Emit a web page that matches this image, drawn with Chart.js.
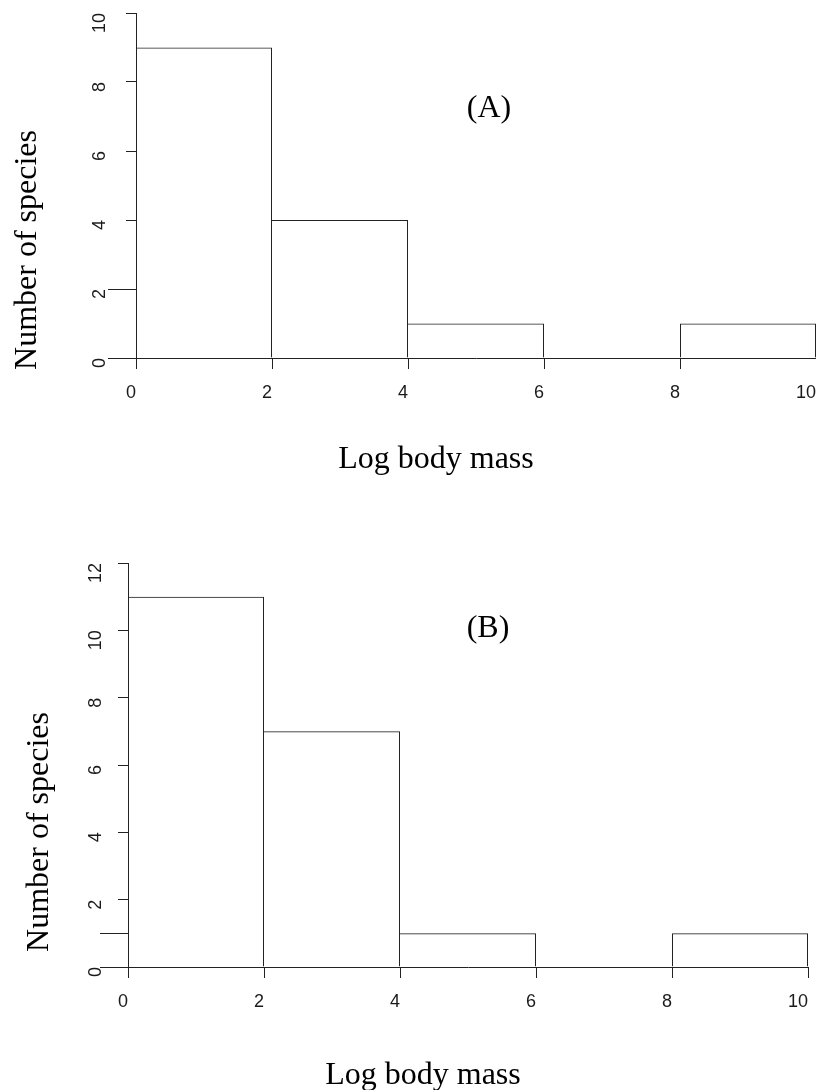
<!DOCTYPE html>
<html>
<head>
<meta charset="utf-8">
<script src="https://cdn.jsdelivr.net/npm/chart.js@4.4.1/dist/chart.umd.min.js"></script>
<style>
  html, body { margin: 0; padding: 0; background: #fff; }
  .panel { position: relative; width: 816px; height: 545px; }
</style>
</head>
<body>
<div class="panel"><canvas id="chartA"></canvas></div>
<div class="panel"><canvas id="chartB"></canvas></div>
<script>
// histogram bins (midpoints of 2-unit bins) and counts
const binMids = [1, 3, 5, 7, 9];
const countsA = [9, 4, 1, 0, 1];
const countsB = [11, 7, 1, 0, 1];

const xTicks = [0, 2, 4, 6, 8, 10];
const yTicksA = [0, 2, 4, 6, 8, 10];
const yTicksB = [0, 2, 4, 6, 8, 10, 12];

// odd longer tick stubs on the left of each y axis
const stubValuesA = [0, 2];
const stubValuesB = [0, 1];

const xTitle = 'Log body mass';
const yTitle = 'Number of species';

const LINE = '#222';
const tickFont = { family: '"Liberation Sans", Arial, sans-serif', size: 18 };

// draws axis titles and the (A)/(B) label
const panelText = {
    id: 'panelText',
    afterDraw(chart, args, opts) {
        const ctx = chart.ctx;
        ctx.save();
        ctx.fillStyle = '#000';
        ctx.font = '32px "Liberation Serif", "Times New Roman", serif';
        ctx.textAlign = 'center';
        ctx.textBaseline = 'alphabetic';
        opts.items.forEach(it => {
            ctx.save();
            ctx.translate(it.x, it.y);
            if (it.rotate) ctx.rotate(-Math.PI / 2);
            ctx.fillText(it.text, 0, 0);
            ctx.restore();
        });
        ctx.restore();
    }
};

// longer tick stubs sticking out left of the y axis
const axisStubs = {
    id: 'axisStubs',
    afterDraw(chart, args, opts) {
        const y = chart.scales.y;
        const ctx = chart.ctx;
        ctx.save();
        ctx.strokeStyle = LINE;
        ctx.lineWidth = 1;
        opts.values.forEach(v => {
            const py = Math.round(y.getPixelForValue(v)) + 0.5;
            ctx.beginPath();
            ctx.moveTo(y.right - opts.length, py);
            ctx.lineTo(y.right, py);
            ctx.stroke();
        });
        ctx.restore();
    }
};

function makeHist(canvasId, counts, yTicks, cfg) {
    const yMax = yTicks[yTicks.length - 1];
    return new Chart(document.getElementById(canvasId), {
        type: 'bar',
        data: {
            datasets: [{
                data: binMids.map((m, i) => ({ x: m, y: counts[i] })),
                backgroundColor: 'rgba(255,255,255,0)',
                borderColor: LINE,
                // outline like R's rect(): skip edges another bar or the axis already draws
                borderWidth: c => {
                    const i = c.dataIndex;
                    const prev = i > 0 ? counts[i - 1] : Infinity;
                    return { top: 1, right: 1, bottom: 0, left: prev < counts[i] ? 1 : 0 };
                },
                borderSkipped: false,
                inflateAmount: 0,
                barPercentage: 1,
                categoryPercentage: 1
            }]
        },
        options: {
            responsive: true,
            maintainAspectRatio: false,
            animation: false,
            events: [],
            layout: { padding: cfg.padding },
            plugins: {
                legend: { display: false },
                tooltip: { enabled: false },
                panelText: { items: cfg.texts },
                axisStubs: { values: cfg.stubs, length: 28 }
            },
            scales: {
                x: {
                    type: 'linear',
                    min: 0,
                    max: 10,
                    offset: false,
                    afterBuildTicks: s => { s.ticks = xTicks.map(v => ({ value: v })); },
                    afterFit: s => { s.height = 60; s.paddingLeft = 0; s.paddingRight = 0; },
                    border: { color: LINE, width: 1 },
                    grid: { drawOnChartArea: false, offset: false, tickLength: 11, tickColor: LINE, tickWidth: 1 },
                    ticks: { align: 'end', padding: 13, color: '#1a1a1a', font: tickFont, maxRotation: 0, autoSkip: false }
                },
                y: {
                    min: 0,
                    max: yMax,
                    afterBuildTicks: s => { s.ticks = yTicks.map(v => ({ value: v })); },
                    afterFit: s => { s.width = cfg.yWidth; s.paddingTop = 0; s.paddingBottom = 0; },
                    border: { color: LINE, width: 1 },
                    grid: { drawOnChartArea: false, tickLength: 10, tickColor: LINE, tickWidth: 1 },
                    ticks: { minRotation: 90, maxRotation: 90, padding: cfg.yPad, color: '#1a1a1a', font: tickFont, autoSkip: false }
                }
            }
        },
        plugins: [panelText, axisStubs]
    });
}

makeHist('chartA', countsA, yTicksA, {
    padding: { top: 13, right: 0, left: 0, bottom: 127 },
    yWidth: 136,
    yPad: 26,
    stubs: stubValuesA,
    texts: [
        { text: '(A)', x: 489, y: 117 },
        { text: xTitle, x: 436, y: 468 },
        { text: yTitle, x: 36, y: 250, rotate: true }
    ]
});

makeHist('chartB', countsB, yTicksB, {
    padding: { top: 18, right: 8, left: 0, bottom: 63 },
    yWidth: 128,
    yPad: 22,
    stubs: stubValuesB,
    texts: [
        { text: '(B)', x: 488, y: 637 - 545 },
        { text: xTitle, x: 423, y: 1084 - 545 },
        { text: yTitle, x: 48, y: 832 - 545, rotate: true }
    ]
});
</script>
</body>
</html>
